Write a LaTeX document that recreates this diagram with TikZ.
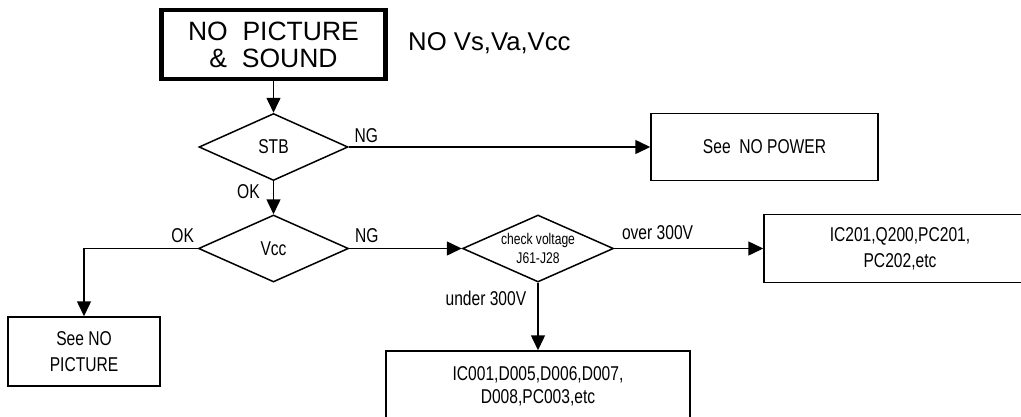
\documentclass[tikz,border=0pt]{standalone}
\usepackage{fontspec}
\setmainfont{Liberation Sans}
\newfontfamily\narrowfont[FakeStretch=0.78]{Liberation Sans}
\usetikzlibrary{arrows.meta, positioning, shapes.geometric}

\begin{document}
\begin{tikzpicture}[
    x=1pt, y=-1pt,
    box/.style={draw, line width=1.5pt, align=center, inner sep=0pt,
                font=\narrowfont\fontsize{20}{26}\selectfont},
    startbox/.style={draw, line width=4.5pt, align=center, inner sep=0pt,
                minimum width=224pt, minimum height=69pt,
                font=\fontsize{26.5}{27}\selectfont},
    test/.style={diamond, draw, line width=1.5pt, aspect=2.2, inner sep=0pt,
                 font=\narrowfont\fontsize{20}{22}\selectfont},
    lbl/.style={inner sep=0pt, font=\narrowfont\fontsize{20}{22}\selectfont},
    note/.style={inner sep=0pt, font=\fontsize{25.7}{27}\selectfont},
    flow/.style={draw, line width=1.5pt, ->},
    >={Triangle[length=15pt, width=14pt]}
  ]
  \clip (0,0) rectangle (1021,416);

  % Start
  \node[startbox] (start) at (273.5,44.5) {NO\ \ PICTURE\\\&\ \ SOUND};
  \node[note, anchor=west] (novolt) at (408,43.5) {NO Vs,Va,Vcc};

  % Decisions
  \node[test, minimum width=149pt, minimum height=67pt] (stb) at (273.5,147) {STB};
  \node[test, minimum width=150pt, minimum height=67pt] (vcc) at (273.5,248.5) {Vcc};
  \node[test, minimum width=151pt, minimum height=67pt, align=center,
        font=\narrowfont\fontsize{15.5}{19}\selectfont] (chk) at (538,248.5)
        {check voltage\\J61-J28};

  % Results
  \node[box, minimum width=227pt, minimum height=67pt] (power) at (764.5,147) {See\ \ NO POWER};
  \node[box, minimum width=272pt, minimum height=68pt] (ics) at (900,248.5) {IC201,Q200,PC201,\\PC202,etc};
  \node[box, minimum width=304pt, minimum height=71pt,
        font=\narrowfont\fontsize{20}{23}\selectfont] (diodes) at (538,386.5)
        {IC001,D005,D006,D007,\\D008,PC003,etc};
  \node[box, minimum width=152pt, minimum height=69pt] (nopic) at (84,351.5) {See NO\\PICTURE};

  % Connectors
  \draw[flow] (start) -- (stb);
  \draw[flow] (stb) -- node[lbl, pos=0, anchor=base west, xshift=5pt, yshift=5pt] (ngstb) {NG} (power);
  \draw[flow] (stb) -- node[lbl, pos=0, anchor=base east, xshift=-13pt, yshift=-17pt] (okstb) {OK} (vcc);
  \draw[flow] (vcc.west) -| node[lbl, pos=0, anchor=base east, xshift=-3pt, yshift=6.5pt] (okvcc) {OK} (nopic.north);
  \draw[flow] (vcc) -- node[lbl, pos=0, anchor=base west, xshift=5pt, yshift=6.5pt] (ngvcc) {NG} (chk);
  \draw[flow] (chk) -- node[lbl, pos=0, anchor=base west, xshift=7pt, yshift=9.5pt] (over) {over 300V} (ics);
  \draw[flow] (chk) -- node[lbl, pos=0, anchor=base east, xshift=-11pt, yshift=-23pt] (under) {under 300V} (diodes);
\end{tikzpicture}
\end{document}
